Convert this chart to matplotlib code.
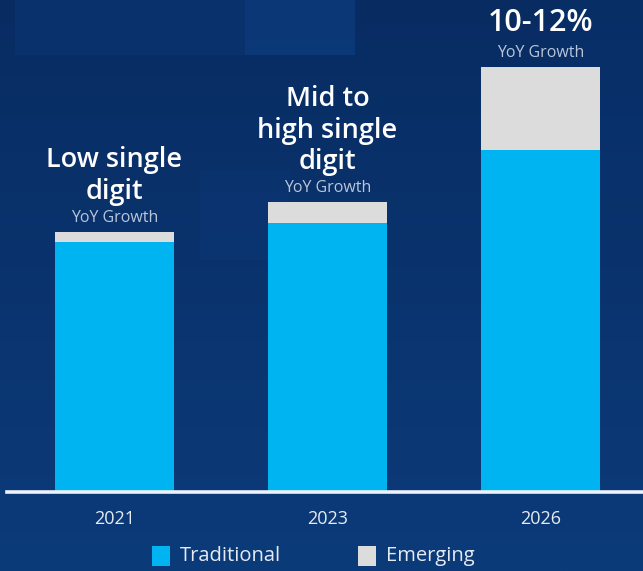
import numpy as np
import matplotlib
matplotlib.use("Agg")
import matplotlib.pyplot as plt
from matplotlib.patches import Rectangle

# Market size index by year, split into traditional and emerging segments
years = ["2021", "2023", "2026"]
traditional = [96.0, 103.5, 131.5]
emerging = [4.0, 8.0, 32.0]

# Growth callouts above each bar
headline = [["Low single", "digit"], ["Mid to", "high single", "digit"], ["10-12%"]]
subline = "YoY Growth"

legend_labels = ["Traditional", "Emerging"]

C_TRAD = "#00b4f2"
C_EMERG = "#dcdcdc"
BG = "#0a326e"

W, H = 643, 571
fig = plt.figure(figsize=(W / 100, H / 100), dpi=100)
fig.patch.set_facecolor(BG)

# Background: soft vertical gradient with a few faint panels
bg = fig.add_axes([0, 0, 1, 1], zorder=-10)
grad = np.linspace(0, 1, 256)[:, None]
cmap = matplotlib.colors.LinearSegmentedColormap.from_list("bg", ["#082c62", "#0c3b7a"])
bg.imshow(grad, aspect="auto", cmap=cmap, extent=[0, W, H, 0])
for (x, y, w, h, c) in [(15, 0, 340, 55, "#0e3f84"), (245, 0, 110, 55, "#104690"),
                        (200, 170, 90, 90, "#0d3a7c"), (560, 0, 83, 200, "#0a3472")]:
    bg.add_patch(Rectangle((x, y), w, h, color=c, alpha=0.3, lw=0))
bg.set_xlim(0, W)
bg.set_ylim(H, 0)
bg.axis("off")

# Main bar axes: baseline at y=492 px, spans full width from x=7 px
base_px = 492
ax = fig.add_axes([7 / W, (H - base_px) / H, (W - 7) / W, base_px / H])
ax.patch.set_alpha(0)
px_per_unit = 2.6
ax.set_ylim(0, base_px / px_per_unit)
spacing_px = 213.0
ax.set_xlim(-(114.5 - 7) / spacing_px, (643 - 114.5) / spacing_px)

x = np.arange(len(years))
bw = 119 / spacing_px
ax.bar(x, traditional, width=bw, color=C_TRAD, zorder=2)
ax.bar(x, emerging, width=bw, bottom=traditional, color=C_EMERG, zorder=2)

for s in ["top", "right", "left"]:
    ax.spines[s].set_visible(False)
ax.spines["bottom"].set_color("#eef3fb")
ax.spines["bottom"].set_linewidth(2.6)
ax.set_yticks([])
ax.set_xticks(x)
ax.set_xticklabels(years, color="#e6ebf3", fontsize=13, family="Open Sans")
ax.tick_params(axis="x", length=0, pad=13)

# Growth callouts
big_font = dict(color="white", family="Open Sans", fontweight="semibold", ha="center", va="center")
sub_font = dict(color="#b9c6da", family="Open Sans", ha="center", va="center", fontsize=11.5)
line_gap = 31.5
for i, lines in enumerate(headline):
    top = traditional[i] + emerging[i]
    first_off = 44 if i == 2 else 40
    ax.annotate(subline, xy=(i, top), xytext=(0, 14), textcoords="offset pixels",
                annotation_clip=False, **sub_font)
    size = 22 if i == 2 else 19.5
    for k, txt in enumerate(reversed(lines)):
        ax.annotate(txt, xy=(i, top), xytext=(0, first_off + k * line_gap),
                    textcoords="offset pixels", fontsize=size,
                    annotation_clip=False, **big_font)

# Legend
lg_y = 1 - 556 / H
for (lx, col, lab) in [(152, C_TRAD, legend_labels[0]), (358, C_EMERG, legend_labels[1])]:
    fig.patches.append(Rectangle((lx / W, lg_y - 10 / H), 18 / W, 20 / H,
                                 transform=fig.transFigure, color=col, lw=0))
    fig.text((lx + 28) / W, lg_y, lab, color="#e6ebf3", fontsize=14.5,
             family="Open Sans", va="center", ha="left")

fig.savefig("out.png", dpi=100, facecolor=fig.get_facecolor())
